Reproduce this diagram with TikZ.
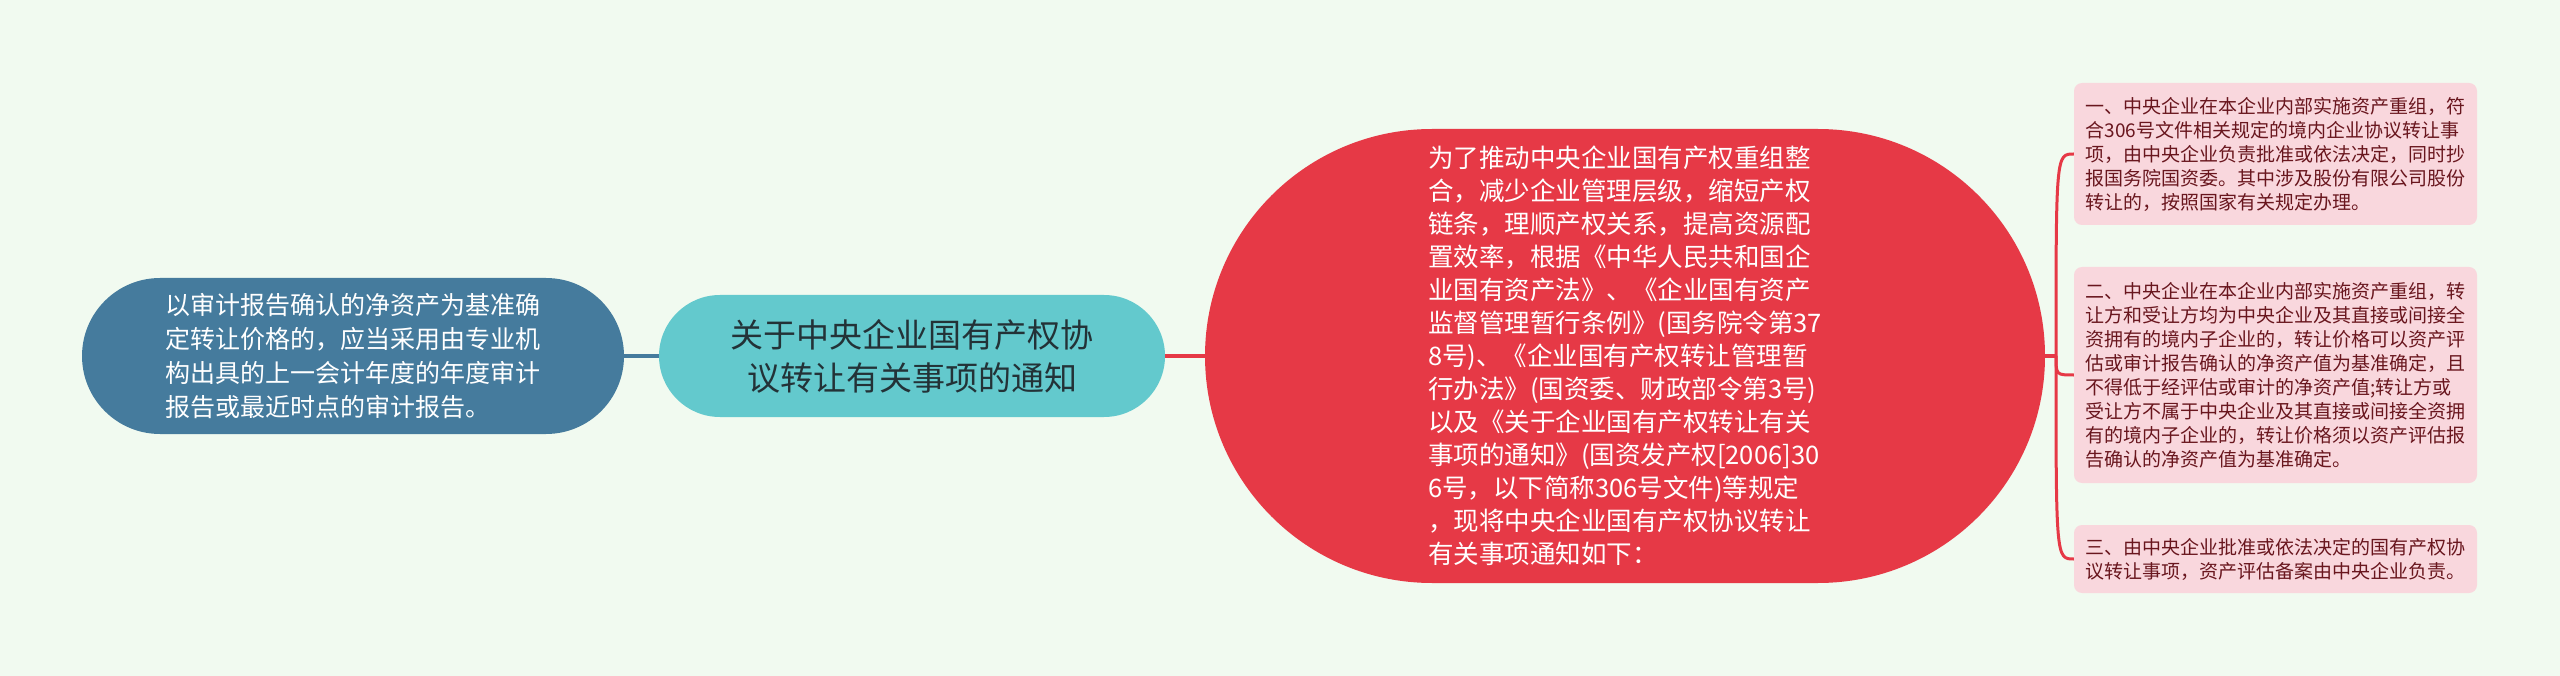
\documentclass[tikz,border=0pt]{standalone}
\usepackage{fontspec}
\setmainfont{Noto Sans CJK SC}
\definecolor{bg}{RGB}{241,250,240}
\definecolor{cblue}{RGB}{69,123,157}
\definecolor{cteal}{RGB}{99,201,205}
\definecolor{cred}{RGB}{230,57,70}
\definecolor{cpink}{RGB}{249,215,221}
\definecolor{cmaroon}{RGB}{105,22,30}
\definecolor{cdark}{RGB}{35,50,55}
\begin{document}
\begin{tikzpicture}[x=1pt,y=-1pt,
  blueN/.style={fill=cblue, rounded corners=78pt, minimum width=542pt, minimum height=156pt, inner sep=0pt, text=white, font=\fontsize{25pt}{34pt}\selectfont, align=left},
  tealN/.style={fill=cteal, rounded corners=61pt, minimum width=506pt, minimum height=122pt, inner sep=0pt, text=cdark, font=\fontsize{33pt}{43pt}\selectfont, align=center},
  redN/.style={fill=cred, rounded corners=227pt, minimum width=840pt, minimum height=454pt, inner sep=0pt, text=white, font=\fontsize{25.5pt}{33pt}\selectfont, align=left},
  pinkN/.style={fill=cpink, rounded corners=8pt, minimum width=403pt, inner sep=0pt, text=cmaroon, font=\fontsize{19pt}{24pt}\selectfont, align=left},
  bluel/.style={draw=cblue, line width=3pt},
  redl/.style={draw=cred, line width=3pt}
]
\useasboundingbox (0,0) rectangle (2560,676);
\fill[bg] (0,0) rectangle (2560,676);

\node[blueN] (blue) at (353,356) {以审计报告确认的净资产为基准确\\定转让价格的，应当采用由专业机\\构出具的上一会计年度的年度审计\\报告或最近时点的审计报告。};

\node[tealN] (teal) at (912,356) {关于中央企业国有产权协\\议转让有关事项的通知};

\node[redN] (red) at (1625,356) {为了推动中央企业国有产权重组整\\合，减少企业管理层级，缩短产权\\链条，理顺产权关系，提高资源配\\置效率，根据《中华人民共和国企\\业国有资产法》、《企业国有资产\\监督管理暂行条例》(国务院令第37\\8号)、《企业国有产权转让管理暂\\行办法》(国资委、财政部令第3号)\\以及《关于企业国有产权转让有关\\事项的通知》(国资发产权[2006]30\\6号，以下简称306号文件)等规定\\，现将中央企业国有产权协议转让\\有关事项通知如下：};

\node[pinkN, minimum height=142pt] (b1) at (2275.5,154) {一、中央企业在本企业内部实施资产重组，符\\合306号文件相关规定的境内企业协议转让事\\项，由中央企业负责批准或依法决定，同时抄\\报国务院国资委。其中涉及股份有限公司股份\\转让的，按照国家有关规定办理。};

\node[pinkN, minimum height=216pt] (b2) at (2275.5,375) {二、中央企业在本企业内部实施资产重组，转\\让方和受让方均为中央企业及其直接或间接全\\资拥有的境内子企业的，转让价格可以资产评\\估或审计报告确认的净资产值为基准确定，且\\不得低于经评估或审计的净资产值;转让方或\\受让方不属于中央企业及其直接或间接全资拥\\有的境内子企业的，转让价格须以资产评估报\\告确认的净资产值为基准确定。};

\node[pinkN, minimum height=68pt] (b3) at (2275.5,559) {三、由中央企业批准或依法决定的国有产权协\\议转让事项，资产评估备案由中央企业负责。};

\draw[bluel] (blue.east) -- (teal.west);
\draw[redl] (teal.east) -- (red.west);
\coordinate (j) at (2056,356);
\draw[redl] (red.east) -- (j);
\draw[redl] (j) .. controls (j|-b1.west) .. (b1.west);
\draw[redl] (j) .. controls (j|-b2.west) .. (b2.west);
\draw[redl] (j) .. controls (j|-b3.west) .. (b3.west);
\end{tikzpicture}
\end{document}
